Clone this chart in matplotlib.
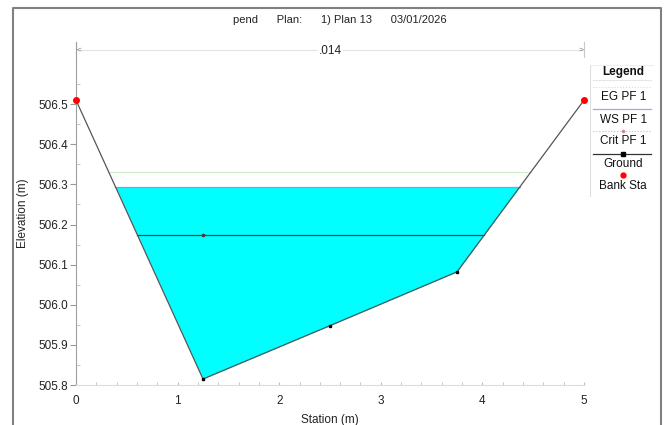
#Cross section plot - pend, Plan 13
import matplotlib.pyplot as plt
import numpy as np
from matplotlib.lines import Line2D
from matplotlib.ticker import MultipleLocator
import matplotlib.transforms as mtransforms

plt.rcParams['font.family'] = ['Liberation Sans', 'DejaVu Sans']

# ground geometry
station = [0, 1.25, 2.5, 3.75, 5]
ground = [506.51, 505.815, 505.948, 506.082, 506.51]
bank_sta = [0, 5]
bank_elev = [506.51, 506.51]

# profile results
eg_pf1 = 506.331
ws_pf1 = 506.294
crit_pf1 = 506.174
n_value = '.014'

title = 'pend      Plan:      1) Plan 13      03/01/2026'


def wet_limits(x, z, level):
    # left and right stations where a level meets the ground
    x = np.asarray(x, float)
    z = np.asarray(z, float)
    i_min = int(np.argmin(z))
    left = np.interp(level, z[:i_min + 1][::-1], x[:i_min + 1][::-1])
    right = np.interp(level, z[i_min:], x[i_min:])
    return left, right


fig = plt.figure(figsize=(6.66, 4.25), dpi=100)
W, H = 666, 425

# outer frame (open at the bottom)
frame = Line2D([13 / W, 13 / W, 661 / W, 661 / W], [0, 1 - 8 / H, 1 - 8 / H, 0],
               transform=fig.transFigure, color='#808080', lw=1.5)
fig.add_artist(frame)

fig.text(340 / W, 1 - 20 / H, title, ha='center', va='center', fontsize=8, color='#222222')

ax = fig.add_axes([76 / W, 40 / H, 508 / W, 343 / H])
ax.set_xlim(0, 5)
ax.set_ylim(505.8, 506.655)

# water fill and lines
wl, wr = wet_limits(station, ground, ws_pf1)
xs_fine = np.linspace(wl, wr, 400)
ax.fill_between(xs_fine, np.interp(xs_fine, station, ground), ws_pf1, color='#00ffff', lw=0, zorder=1)
ax.plot([wl, wr], [ws_pf1, ws_pf1], color='#7f9fe8', lw=0.9, zorder=2)

el, er = wet_limits(station, ground, eg_pf1)
ax.plot([el, er], [eg_pf1, eg_pf1], color='#c8f0c8', lw=0.8, zorder=2)

cl, cr = wet_limits(station, ground, crit_pf1)
ax.plot([cl, 1.25, cr], [crit_pf1] * 3, color='#4a3a3a', lw=0.9, zorder=3,
        marker='o', markersize=1.6, markevery=[1])

ax.plot(station, ground, color='#555555', lw=0.9, zorder=4)
ax.plot(station[1:-1], ground[1:-1], 's', color='black', markersize=2, zorder=5)
ax.plot(bank_sta, bank_elev, 'o', color='#ff0000', markersize=4, zorder=6, clip_on=False)

# roughness bracket
trans = mtransforms.blended_transform_factory(ax.transData, ax.transAxes)
ax.plot([0, 5], [0.977, 0.977], color='#e2e2e2', lw=0.8, transform=trans, clip_on=False)
ax.plot([0, 0], [0.955, 1.0], color='#c8c8c8', lw=0.8, transform=trans, clip_on=False)
ax.plot([5, 5], [0.955, 1.0], color='#c8c8c8', lw=0.8, transform=trans, clip_on=False)
ax.text(0.03, 0.977, '<', transform=trans, fontsize=6, color='#777777', ha='center', va='center')
ax.text(4.97, 0.977, '>', transform=trans, fontsize=6, color='#777777', ha='center', va='center')
ax.text(2.5, 0.975, n_value, transform=trans, fontsize=8.5, color='#222222', ha='center', va='center',
        bbox=dict(facecolor='white', edgecolor='none', pad=1))

# axes styling
for s in ['top', 'right']:
    ax.spines[s].set_visible(False)
ax.spines['left'].set_color('#a0a0a0')
ax.spines['bottom'].set_color('#dddddd')
ax.set_xticks([0, 1, 2, 3, 4, 5])
ax.xaxis.set_minor_locator(MultipleLocator(0.2))
ax.set_yticks([505.8, 505.9, 506.0, 506.1, 506.2, 506.3, 506.4, 506.5])
ax.set_yticks(np.arange(505.85, 506.6, 0.1), minor=True)
ax.yaxis.set_major_formatter(plt.FormatStrFormatter('%.1f'))
ax.tick_params(axis='x', which='both', direction='in', length=2.5, color='#bbbbbb',
               labelsize=8.5, labelcolor='#222222', pad=7)
ax.tick_params(axis='y', which='major', direction='out', length=4, color='#999999',
               labelsize=8.5, labelcolor='#222222', pad=1.5)
ax.tick_params(axis='y', which='minor', direction='in', length=3, color='#bbbbbb')
ax.set_xlabel('Station (m)', fontsize=8.5, color='#222222', labelpad=5)
ax.set_ylabel('Elevation (m)', fontsize=8.5, color='#222222', labelpad=7)

# legend panel
lg = fig.add_axes([590 / W, 1 - 197 / H, 64 / W, 132 / H])
lg.set_xlim(0, 1)
lg.set_ylim(197, 65)
lg.set_xticks([])
lg.set_yticks([])
for s in lg.spines.values():
    s.set_visible(False)
lg.axvline(0, color='#dddddd', lw=0.8)
lg.axhline(65, color='#eeeeee', lw=0.8)
lg.text(0.52, 72, 'Legend', ha='center', va='center', fontsize=8.5, color='#111111', fontweight='bold')
lg.plot([0.05, 0.95], [80, 80], color='#e6e6e6', lw=0.8)
lg.plot([0.05, 0.95], [87, 87], color='#bdeebd', lw=0.8, ls=':')
lg.text(0.52, 97, 'EG PF 1', ha='center', va='center', fontsize=8.5, color='#111111')
lg.plot([0.05, 0.95], [109, 109], color='#a8a8e0', lw=0.9)
lg.text(0.52, 120, 'WS PF 1', ha='center', va='center', fontsize=8.5, color='#111111')
lg.plot([0.05, 0.95], [131, 131], color='#e8a8b8', lw=0.8, ls=':')
lg.plot([0.52], [131], 'o', color='#d08090', markersize=1.5)
lg.text(0.52, 141, 'Crit PF 1', ha='center', va='center', fontsize=8.5, color='#111111')
lg.plot([0.05, 0.95], [154, 154], color='#333333', lw=0.9)
lg.plot([0.52], [154], 's', color='black', markersize=2.2)
lg.text(0.52, 164, 'Ground', ha='center', va='center', fontsize=8.5, color='#111111')
lg.plot([0.52], [175], 'o', color='#ff0000', markersize=3.5)
lg.text(0.52, 186, 'Bank Sta', ha='center', va='center', fontsize=8.5, color='#111111')

fig.savefig('out.png', dpi=100)
